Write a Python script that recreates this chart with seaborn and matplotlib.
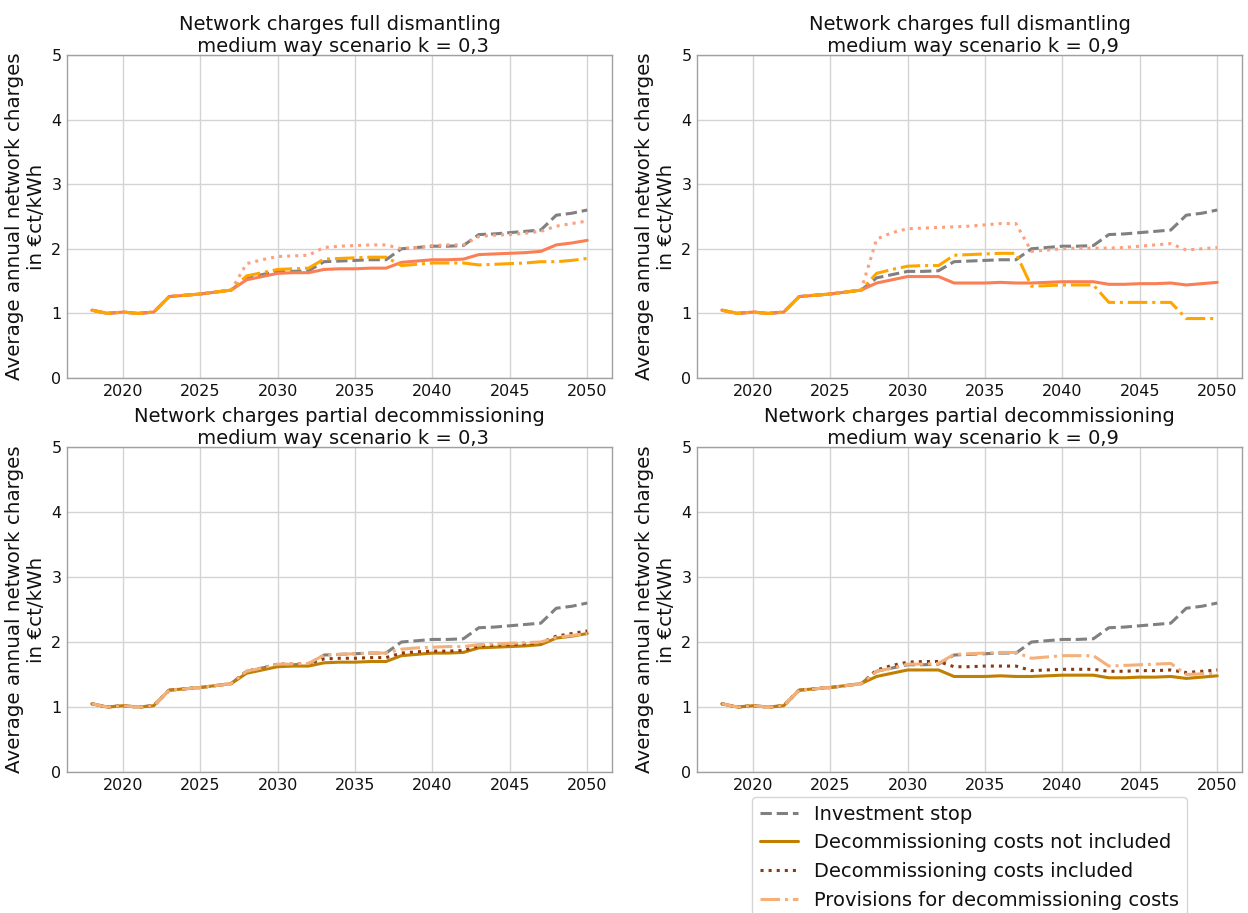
import numpy as np
import pandas as pd
import matplotlib
matplotlib.use("Agg")
import matplotlib.pyplot as plt
import seaborn as sns

years = list(range(2018, 2051))

# Shared path up to 2027
common = [1.05, 1.00, 1.02, 1.00, 1.02, 1.26, 1.28, 1.30, 1.33, 1.36]

investment_stop = common + [1.55, 1.60, 1.65, 1.65, 1.66, 1.80, 1.81, 1.82, 1.83, 1.83,
                            2.00, 2.02, 2.04, 2.04, 2.05, 2.22, 2.23, 2.25, 2.27, 2.29,
                            2.52, 2.55, 2.60]

# Decommissioning costs not included (same for full dismantling and partial decommissioning)
not_included_k03 = common + [1.52, 1.57, 1.62, 1.63, 1.63, 1.68, 1.69, 1.69, 1.70, 1.70,
                             1.79, 1.81, 1.83, 1.83, 1.84, 1.91, 1.92, 1.93, 1.94, 1.96,
                             2.06, 2.09, 2.13]
not_included_k09 = common + [1.47, 1.52, 1.57, 1.57, 1.57, 1.47, 1.47, 1.47, 1.48, 1.47,
                             1.47, 1.48, 1.49, 1.49, 1.49, 1.45, 1.45, 1.46, 1.46, 1.47,
                             1.44, 1.46, 1.48]

# Full dismantling
full_included_k03 = common + [1.77, 1.83, 1.88, 1.89, 1.90, 2.02, 2.04, 2.05, 2.06, 2.06,
                              2.00, 2.02, 2.05, 2.06, 2.06, 2.19, 2.21, 2.22, 2.24, 2.27,
                              2.35, 2.39, 2.43]
full_provisions_k03 = common + [1.58, 1.63, 1.68, 1.69, 1.70, 1.84, 1.85, 1.86, 1.87, 1.87,
                                1.74, 1.76, 1.78, 1.78, 1.78, 1.75, 1.76, 1.77, 1.78, 1.80,
                                1.80, 1.82, 1.85]
full_included_k09 = common + [2.15, 2.25, 2.31, 2.32, 2.33, 2.34, 2.35, 2.37, 2.39, 2.39,
                              1.96, 1.98, 2.00, 2.01, 2.01, 2.01, 2.02, 2.04, 2.06, 2.08,
                              1.98, 2.00, 2.02]
full_provisions_k09 = common + [1.62, 1.68, 1.73, 1.74, 1.74, 1.90, 1.91, 1.92, 1.93, 1.93,
                                1.42, 1.43, 1.44, 1.44, 1.44, 1.17, 1.17, 1.17, 1.17, 1.17,
                                0.92, 0.92, 0.92]

# Partial decommissioning
partial_included_k03 = common + [1.55, 1.60, 1.66, 1.66, 1.67, 1.74, 1.75, 1.75, 1.76, 1.76,
                                 1.83, 1.85, 1.86, 1.86, 1.87, 1.94, 1.95, 1.96, 1.97, 1.99,
                                 2.09, 2.13, 2.17]
partial_provisions_k03 = common + [1.55, 1.60, 1.66, 1.66, 1.67, 1.80, 1.81, 1.82, 1.83, 1.83,
                                   1.89, 1.91, 1.92, 1.93, 1.93, 1.96, 1.97, 1.98, 1.99, 2.00,
                                   2.07, 2.10, 2.13]
partial_included_k09 = common + [1.57, 1.64, 1.69, 1.70, 1.70, 1.62, 1.62, 1.63, 1.63, 1.63,
                                 1.56, 1.57, 1.58, 1.58, 1.58, 1.55, 1.55, 1.56, 1.56, 1.57,
                                 1.53, 1.55, 1.57]
partial_provisions_k09 = common + [1.55, 1.60, 1.66, 1.66, 1.67, 1.81, 1.82, 1.83, 1.84, 1.84,
                                   1.75, 1.77, 1.79, 1.79, 1.79, 1.63, 1.64, 1.65, 1.66, 1.67,
                                   1.50, 1.51, 1.52]

series_labels = ["Investment stop",
                 "Decommissioning costs not included",
                 "Decommissioning costs included",
                 "Provisions for decommissioning costs"]

titles = [
    "Network charges full dismantling\n medium way scenario k = 0,3",
    "Network charges full dismantling\n medium way scenario k = 0,9",
    "Network charges partial decommissioning\n medium way scenario k = 0,3",
    "Network charges partial decommissioning\n medium way scenario k = 0,9",
]
ylabel = "Average annual network charges\nin €ct/kWh"

full_colors = ["#808080", "#fa7f55", "#fda07e", "#ffa500"]
partial_colors = ["#808080", "#c07f00", "#8b3a0f", "#f4b07a"]
styles = ["--", "-", ":", "-."]

panels = [
    (titles[0], [investment_stop, not_included_k03, full_included_k03, full_provisions_k03], full_colors),
    (titles[1], [investment_stop, not_included_k09, full_included_k09, full_provisions_k09], full_colors),
    (titles[2], [investment_stop, not_included_k03, partial_included_k03, partial_provisions_k03], partial_colors),
    (titles[3], [investment_stop, not_included_k09, partial_included_k09, partial_provisions_k09], partial_colors),
]

sns.set_theme(style="whitegrid")
plt.rcParams["font.family"] = ["DejaVu Sans"]
plt.rcParams["axes.edgecolor"] = "#a0a0a0"
plt.rcParams["grid.color"] = "#d4d4d4"
for key in ["text.color", "axes.labelcolor", "xtick.color", "ytick.color"]:
    plt.rcParams[key] = "#111111"

fig = plt.figure(figsize=(12.48, 9.13), dpi=100)
L1, R1, L2, R2 = 0.0537, 0.4904, 0.5585, 0.9952
rows = [(0.5860, 0.9398), (0.1544, 0.5104)]
rects = [
    (L1, rows[0][0], R1 - L1, rows[0][1] - rows[0][0]),
    (L2, rows[0][0], R2 - L2, rows[0][1] - rows[0][0]),
    (L1, rows[1][0], R1 - L1, rows[1][1] - rows[1][0]),
    (L2, rows[1][0], R2 - L2, rows[1][1] - rows[1][0]),
]

for rect, (title, data, colors) in zip(rects, panels):
    ax = fig.add_axes(rect)
    for values, label, color, ls in zip(data, series_labels, colors, styles):
        sns.lineplot(x=years, y=values, ax=ax, color=color, linestyle=ls,
                     linewidth=2.2, label=label, legend=False)
    ax.set_ylim(0, 5)
    ax.set_yticks([0, 1, 2, 3, 4, 5])
    ax.set_xticks([2020, 2025, 2030, 2035, 2040, 2045, 2050])
    ax.tick_params(axis="both", labelsize=11.5, length=0, pad=4)
    ax.set_title(title, fontsize=14, pad=2, color="#111111")
    ax.set_ylabel(ylabel, fontsize=14.3, labelpad=4)
    ax.set_xlabel("")
    for s in ax.spines.values():
        s.set_linewidth(1.0)
    last_ax = ax

handles, labels = last_ax.get_legend_handles_labels()
fig.legend(handles, labels, loc="upper left",
           bbox_to_anchor=(742 / 1248, 1 - 787 / 913),
           fontsize=14, frameon=True, fancybox=True, shadow=False,
           borderpad=0.4, labelspacing=0.5, handlelength=2.0)

fig.savefig("out.png", dpi=100)
